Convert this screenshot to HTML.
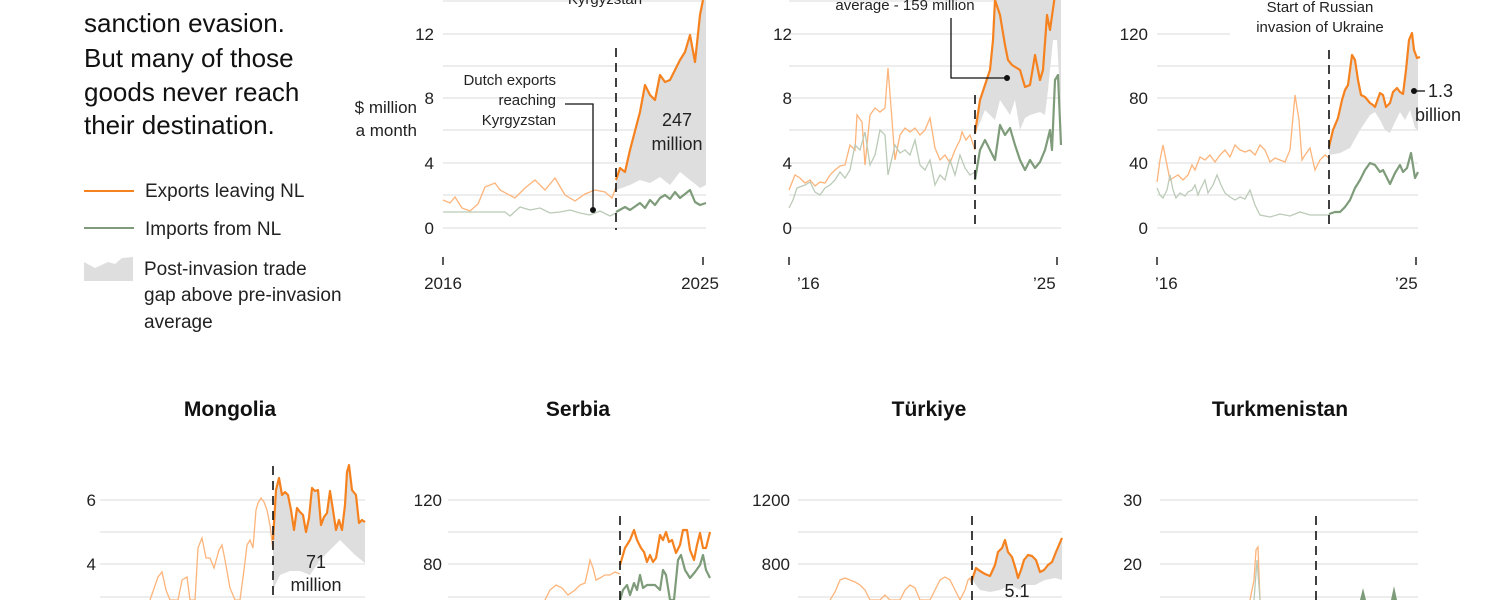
<!DOCTYPE html>
<html><head><meta charset="utf-8"><style>
body{margin:0;background:#fff;}
svg{display:block;font-family:"Liberation Sans",sans-serif;}
.g{stroke:#e2e2e2;stroke-width:1.2}
.t{font-size:17px;fill:#222}
.lo{fill:none;stroke:#fdb47a;stroke-width:1.3}
.o{fill:none;stroke:#f5821f;stroke-width:2.2;stroke-linejoin:round}
.lg{fill:none;stroke:#bccbb8;stroke-width:1.3}
.gr{fill:none;stroke:#7e9b7a;stroke-width:2.2;stroke-linejoin:round}
.f{fill:#dedede}
.d{stroke:#111;stroke-width:1.6;stroke-dasharray:9,6}
.ti{font-size:21px;font-weight:bold;fill:#111;text-anchor:middle}
</style></head><body>
<svg width="1500" height="600" viewBox="0 0 1500 600">
<!-- left text -->
<g font-size="26" fill="#111">
<text x="84" y="32">sanction evasion.</text>
<text x="84" y="67">But many of those</text>
<text x="84" y="101">goods never reach</text>
<text x="84" y="134">their destination.</text>
</g>
<line x1="84" y1="191" x2="134" y2="191" stroke="#f5821f" stroke-width="2"/>
<text x="145" y="197" font-size="19" fill="#222">Exports leaving NL</text>
<line x1="84" y1="228" x2="134" y2="228" stroke="#7e9b7a" stroke-width="2"/>
<text x="145" y="235" font-size="19" fill="#222">Imports from NL</text>
<polygon points="84,281 84,262 95,268 108,262 115,264 122,258 133,257 133,281" fill="#dedede"/>
<g font-size="19" fill="#222"><text x="144" y="275">Post-invasion trade</text><text x="144" y="301">gap above pre-invasion</text><text x="144" y="328">average</text></g>

<!-- Panel 1 -->
<g class="g"><line x1="443" y1="1" x2="706" y2="1"/><line x1="443" y1="34" x2="706" y2="34"/><line x1="443" y1="66" x2="706" y2="66"/><line x1="443" y1="98" x2="706" y2="98"/><line x1="443" y1="130" x2="706" y2="130"/><line x1="443" y1="163" x2="706" y2="163"/><line x1="443" y1="195" x2="706" y2="195"/><line x1="443" y1="228" x2="706" y2="228"/></g>
<g class="t" text-anchor="end"><text x="434" y="40">12</text><text x="434" y="104">8</text><text x="434" y="169">4</text><text x="434" y="234">0</text>
<text x="417" y="113">$ million</text><text x="417" y="136">a month</text></g>
<polygon class="f" points="616,180 620,168 625,172 630,150 640,112 645,85 650,95 655,100 660,75 665,82 670,80 680,60 685,52 690,35 695,62 700,15 703,0 706,0 706,185 700,188 690,180 680,172 670,185 660,177 650,183 640,180 630,185 616,190"/>
<polyline class="lo" points="443,200 450,203 455,197 462,208 470,211 478,204 485,187 495,183 500,190 515,198 525,188 535,180 545,190 555,178 565,195 575,201 585,194 595,190 605,192 612,198 616,187"/>
<polyline class="lg" points="443,212 505,212 510,216 520,207 530,210 540,208 550,213 560,212 570,210 580,213 590,215 600,211 610,216 616,213"/>
<polyline class="o" points="616,180 620,168 625,172 630,150 640,112 645,85 650,95 655,100 660,75 665,82 670,80 680,60 685,52 690,35 695,62 700,15 703,0"/>
<polyline class="gr" points="616,212 625,207 630,210 640,203 645,208 650,200 655,205 660,198 665,195 670,199 675,192 680,198 690,190 695,202 700,205 706,203"/>
<line class="d" x1="616" y1="48" x2="616" y2="230"/>
<polyline points="565,104 593,104 593,210" fill="none" stroke="#111" stroke-width="1.3"/><circle cx="593" cy="210" r="3" fill="#111"/>
<g font-size="15" fill="#222" text-anchor="end"><text x="556" y="85">Dutch exports</text><text x="556" y="105">reaching</text><text x="556" y="125">Kyrgyzstan</text></g>
<text x="605" y="4" font-size="15" fill="#222" text-anchor="middle">Kyrgyzstan</text>
<g font-size="18" fill="#222" text-anchor="middle"><text x="677" y="126">247</text><text x="677" y="150">million</text></g>
<g stroke="#222" stroke-width="1.5"><line x1="443" y1="257" x2="443" y2="265"/><line x1="703" y1="257" x2="703" y2="265"/></g>
<g class="t" text-anchor="middle"><text x="443" y="289">2016</text><text x="700" y="289">2025</text></g>

<!-- Panel 2 -->
<g class="g"><line x1="789" y1="1" x2="1061" y2="1"/><line x1="789" y1="34" x2="1061" y2="34"/><line x1="789" y1="66" x2="1061" y2="66"/><line x1="789" y1="98" x2="1061" y2="98"/><line x1="789" y1="130" x2="1061" y2="130"/><line x1="789" y1="163" x2="1061" y2="163"/><line x1="789" y1="195" x2="1061" y2="195"/><line x1="789" y1="228" x2="1061" y2="228"/></g>
<g class="t" text-anchor="end"><text x="792" y="40">12</text><text x="792" y="104">8</text><text x="792" y="169">4</text><text x="792" y="234">0</text></g>
<polygon class="f" points="975,133 980,100 985,85 990,70 993,40 995,0 1061,0 1061,110 1057,40 1053,40 1048,90 1045,115 1040,112 1030,115 1025,118 1020,130 1015,100 1010,115 1000,100 995,120 985,110 975,135"/>
<polyline class="lo" points="789,190 795,175 800,178 805,183 810,180 815,186 820,182 825,183 830,175 835,170 840,166 845,165 850,145 855,150 857,115 862,122 865,165 870,115 875,108 880,112 885,108 888,68 892,120 895,160 900,135 905,128 910,132 915,128 920,135 925,130 930,118 935,148 940,160 945,155 950,163 955,150 960,140 962,132 966,140 970,135 975,150"/>
<polyline class="lg" points="789,208 793,200 797,188 805,185 810,182 815,192 820,195 825,188 830,185 835,180 840,172 845,178 850,170 855,145 860,150 865,132 870,165 875,155 880,130 885,135 888,175 895,145 900,153 905,150 910,155 915,140 920,165 925,170 930,160 935,185 940,175 945,180 950,160 955,175 960,155 965,168 970,175 975,172"/>
<polyline class="o" points="975,133 980,100 985,85 990,70 993,40 995,0 1000,15 1005,45 1008,60 1012,65 1020,70 1025,87 1030,85 1035,55 1040,80 1043,70 1047,15 1050,30 1055,-5"/>
<polyline class="gr" points="975,180 980,150 985,140 990,150 995,160 1000,125 1005,135 1010,128 1015,145 1020,160 1025,170 1030,160 1035,168 1040,162 1045,150 1050,130 1052,150 1055,80 1058,75 1061,145"/>
<line class="d" x1="975" y1="95" x2="975" y2="230"/>
<polyline points="951,18 951,78 1007,78" fill="none" stroke="#111" stroke-width="1.3"/><circle cx="1007" cy="78" r="3" fill="#111"/>
<text x="905" y="10" font-size="15" fill="#222" text-anchor="middle">average - 159 million</text>
<g stroke="#222" stroke-width="1.5"><line x1="789" y1="257" x2="789" y2="265"/><line x1="1057" y1="257" x2="1057" y2="265"/></g>
<g class="t"><text x="797" y="289">’16</text><text x="1033" y="289">’25</text></g>

<!-- Panel 3 -->
<g class="g"><line x1="1157" y1="34" x2="1230" y2="34"/><line x1="1157" y1="66" x2="1418" y2="66"/><line x1="1157" y1="98" x2="1418" y2="98"/><line x1="1157" y1="130" x2="1418" y2="130"/><line x1="1157" y1="163" x2="1418" y2="163"/><line x1="1157" y1="195" x2="1418" y2="195"/><line x1="1157" y1="228" x2="1418" y2="228"/></g>
<g class="t" text-anchor="end"><text x="1148" y="40">120</text><text x="1148" y="104">80</text><text x="1148" y="169">40</text><text x="1148" y="234">0</text></g>
<polygon class="f" points="1329,147 1333,130 1338,118 1342,100 1345,90 1348,85 1350,70 1352,55 1355,60 1358,80 1361,95 1365,97 1370,103 1373,105 1375,107 1380,93 1383,95 1386,107 1390,103 1393,92 1397,88 1400,92 1403,94 1406,70 1409,40 1412,33 1414,50 1417,58 1418,57 1418,130 1415,128 1410,110 1405,120 1400,112 1395,122 1390,133 1385,130 1380,120 1375,112 1370,115 1360,130 1350,148 1340,153 1329,155"/>
<polyline class="lo" points="1157,182 1160,160 1163,145 1167,165 1170,180 1173,178 1178,175 1183,180 1188,175 1192,165 1195,170 1200,157 1205,160 1210,155 1215,162 1220,155 1225,150 1230,157 1235,145 1240,150 1245,152 1250,150 1255,155 1260,145 1265,150 1270,162 1275,158 1280,160 1285,162 1290,150 1295,95 1299,120 1302,160 1305,155 1310,148 1315,170 1320,160 1325,155 1329,158"/>
<polyline class="lg" points="1157,188 1160,195 1163,198 1167,190 1170,175 1173,190 1176,198 1180,193 1185,196 1188,192 1192,190 1195,185 1198,195 1200,190 1205,180 1208,193 1213,185 1217,175 1221,185 1225,193 1230,197 1235,200 1240,197 1245,199 1250,190 1255,205 1260,215 1270,217 1280,214 1290,216 1300,212 1310,215 1320,215 1329,215"/>
<polyline class="o" points="1329,147 1333,130 1338,118 1342,100 1345,90 1348,85 1350,70 1352,55 1355,60 1358,80 1361,95 1365,97 1370,103 1373,105 1375,107 1380,93 1383,95 1386,107 1390,103 1393,92 1397,88 1400,92 1403,94 1406,70 1409,40 1412,33 1414,50 1417,58 1420,57"/>
<polyline class="gr" points="1329,214 1335,212 1340,212 1345,207 1350,200 1355,188 1360,180 1365,170 1370,163 1375,165 1380,172 1383,170 1390,184 1395,173 1400,165 1403,172 1407,168 1411,153 1415,178 1418,172"/>
<line class="d" x1="1329" y1="50" x2="1329" y2="230"/>
<g font-size="15" fill="#222" text-anchor="middle"><text x="1320" y="12">Start of Russian</text><text x="1320" y="32">invasion of Ukraine</text></g>
<circle cx="1414" cy="91" r="3" fill="#111"/><line x1="1414" y1="91" x2="1425" y2="91" stroke="#111" stroke-width="1.3"/>
<g font-size="18" fill="#222"><text x="1428" y="97">1.3</text><text x="1415" y="121">billion</text></g>
<g stroke="#222" stroke-width="1.5"><line x1="1157" y1="257" x2="1157" y2="265"/><line x1="1416" y1="257" x2="1416" y2="265"/></g>
<g class="t"><text x="1155" y="289">’16</text><text x="1395" y="289">’25</text></g>

<!-- Bottom titles -->
<text class="ti" x="230" y="416">Mongolia</text>
<text class="ti" x="578" y="416">Serbia</text>
<text class="ti" x="929" y="416">Türkiye</text>
<text class="ti" x="1280" y="416">Turkmenistan</text>

<!-- Mongolia -->
<g class="g"><line x1="100" y1="500" x2="365" y2="500"/><line x1="100" y1="532" x2="365" y2="532"/><line x1="100" y1="564" x2="365" y2="564"/><line x1="100" y1="597" x2="365" y2="597"/></g>
<g class="t" text-anchor="end"><text x="96" y="506">6</text><text x="96" y="570">4</text></g>
<polygon class="f" points="273,540 276,490 279,478 282,495 285,492 288,495 291,510 294,530 297,508 300,512 303,515 306,532 309,518 312,488 315,491 318,490 321,525 324,517 327,513 330,491 333,510 336,530 339,520 342,530 345,505 347,472 349,465 352,490 356,495 359,523 362,520 365,522 365,563 355,555 345,545 340,540 330,550 320,560 310,575 300,571 290,571 280,575 273,590"/>
<polyline class="lo" points="150,600 158,577 162,572 166,590 170,600 178,600 182,580 187,577 190,600 195,600 198,548 202,538 206,558 210,558 214,568 219,550 222,545 225,560 230,588 235,600 240,600 244,570 247,545 250,540 253,548 256,510 258,503 261,498 264,502 267,510 270,525 273,550"/>
<polyline class="o" points="273,540 276,490 279,478 282,495 285,492 288,495 291,510 294,530 297,508 300,512 303,515 306,532 309,518 312,488 315,491 318,490 321,525 324,517 327,513 330,491 333,510 336,530 339,520 342,530 345,505 347,472 349,465 352,490 356,495 359,523 362,520 365,522"/>
<line class="d" x1="273" y1="466" x2="273" y2="600"/>
<g font-size="18" fill="#222" text-anchor="middle"><text x="316" y="568">71</text><text x="316" y="591">million</text></g>

<!-- Serbia -->
<g class="g"><line x1="448" y1="500" x2="710" y2="500"/><line x1="448" y1="532" x2="710" y2="532"/><line x1="448" y1="564" x2="710" y2="564"/><line x1="448" y1="597" x2="710" y2="597"/></g>
<g class="t" text-anchor="end"><text x="442" y="506">120</text><text x="442" y="570">80</text></g>
<polyline class="lo" points="545,600 550,590 556,585 562,588 568,595 575,590 580,585 585,583 588,570 590,560 593,568 596,580 600,578 605,575 610,575 615,572 620,574"/>
<polyline class="gr" points="620,600 623,590 627,585 630,595 634,583 637,590 640,575 643,588 647,585 651,585 655,585 660,590 663,570 666,575 670,600 674,600 678,560 681,555 685,570 690,578 695,572 700,565 703,555 706,570 710,578"/>
<polyline class="o" points="620,565 625,548 630,540 634,530 637,540 641,548 644,552 647,562 650,555 653,562 656,558 660,535 663,540 666,532 669,542 672,540 676,553 680,545 683,530 687,530 690,550 694,560 697,545 700,533 703,548 706,548 710,532"/>
<line class="d" x1="620" y1="516" x2="620" y2="600"/>

<!-- Turkiye -->
<g class="g"><line x1="798" y1="500" x2="1062" y2="500"/><line x1="798" y1="532" x2="1062" y2="532"/><line x1="798" y1="564" x2="1062" y2="564"/><line x1="798" y1="597" x2="1062" y2="597"/></g>
<g class="t" text-anchor="end"><text x="790" y="506">1200</text><text x="790" y="570">800</text></g>
<polygon class="f" points="972,580 976,568 980,571 985,574 990,576 995,565 998,552 1002,548 1005,540 1008,552 1012,557 1016,570 1018,578 1021,570 1024,560 1028,555 1032,556 1036,560 1040,572 1044,570 1048,565 1052,562 1056,552 1059,545 1062,538 1062,580 1055,578 1045,580 1035,585 1025,585 1020,590 1010,585 1000,590 990,592 980,590"/>
<polyline class="lo" points="830,600 835,592 840,580 845,578 850,580 855,582 860,585 865,590 870,600 880,600 885,595 890,600 900,600 905,590 910,585 915,588 920,600 930,600 935,590 940,580 945,577 950,580 955,590 960,600 965,590 968,580 970,578 972,585"/>
<polyline class="o" points="972,580 976,568 980,571 985,574 990,576 995,565 998,552 1002,548 1005,540 1008,552 1012,557 1016,570 1018,578 1021,570 1024,560 1028,555 1032,556 1036,560 1040,572 1044,570 1048,565 1052,562 1056,552 1059,545 1062,538"/>
<line class="d" x1="972" y1="516" x2="972" y2="600"/>
<text x="1017" y="597" font-size="18" fill="#222" text-anchor="middle">5.1</text>

<!-- Turkmenistan -->
<g class="g"><line x1="1160" y1="500" x2="1418" y2="500"/><line x1="1160" y1="532" x2="1418" y2="532"/><line x1="1160" y1="564" x2="1418" y2="564"/><line x1="1160" y1="597" x2="1418" y2="597"/></g>
<g class="t" text-anchor="end"><text x="1142" y="506">30</text><text x="1142" y="570">20</text></g>
<polyline class="lo" points="1250,600 1254,580 1256,550 1258,547 1260,600"/>
<polyline class="lg" points="1254,600 1257,560 1260,600"/>
<polygon points="1360,600 1363,588 1366,600" fill="#7e9b7a"/>
<polygon points="1391,600 1394,586 1397,600" fill="#7e9b7a"/>
<line class="d" x1="1316" y1="516" x2="1316" y2="600"/>
</svg>
</body></html>
